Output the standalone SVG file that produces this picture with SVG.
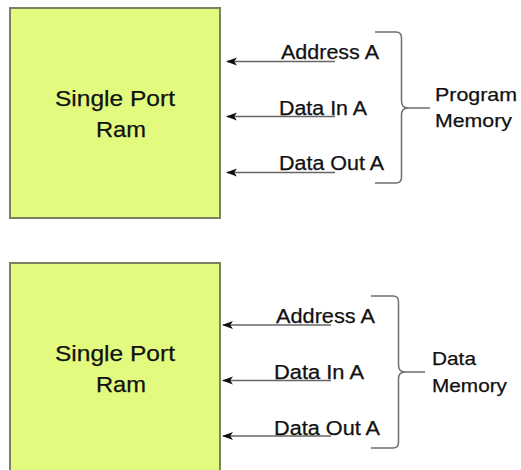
<svg xmlns="http://www.w3.org/2000/svg" width="521" height="470" viewBox="0 0 521 470">
  <style>
    .ram { fill: #e2fb7e; stroke: #7b8160; stroke-width: 2; }
    .t { font-family: "Liberation Sans", Arial, sans-serif; fill: #111; stroke: #111; stroke-width: 0.25; }
    .big { font-size: 22.5px; }
    .sig { font-size: 19.5px; }
    .lbl { font-size: 19px; }
    .wire { stroke: #666; stroke-width: 1.5; fill: none; marker-end: url(#head); }
    .brace { stroke: #6e6e6e; stroke-width: 1.5; fill: none; }
  </style>
  <defs>
    <marker id="head" viewBox="0 0 11 9" refX="10" refY="4.5" markerWidth="11" markerHeight="9" markerUnits="userSpaceOnUse" orient="auto">
      <path d="M0,0.5 L11,4.5 L0,8.5 L2.8,4.5 Z" fill="#111"/>
    </marker>
  </defs>

  <!-- program memory RAM -->
  <g id="ram-program">
    <rect class="ram" x="10" y="8" width="210" height="210"/>
    <text class="t big" x="55" y="106" textLength="120" lengthAdjust="spacingAndGlyphs">Single Port</text>
    <text class="t big" x="96" y="137" textLength="50" lengthAdjust="spacingAndGlyphs">Ram</text>
  </g>

  <!-- data memory RAM -->
  <g id="ram-data">
    <rect class="ram" x="10" y="263" width="210" height="220"/>
    <text class="t big" x="55" y="361" textLength="120" lengthAdjust="spacingAndGlyphs">Single Port</text>
    <text class="t big" x="96" y="392" textLength="50" lengthAdjust="spacingAndGlyphs">Ram</text>
  </g>

  <!-- port signal arrows -->
  <g id="connectors">
    <path class="wire" d="M335,61.5 H227"/>
    <path class="wire" d="M335,116.5 H227"/>
    <path class="wire" d="M335,172.5 H227"/>
    <path class="wire" d="M331,325 H223"/>
    <path class="wire" d="M331,380.5 H223"/>
    <path class="wire" d="M331,436 H223"/>
  </g>

  <!-- port labels -->
  <g id="labels-program">
    <text class="t sig" x="281" y="59" textLength="98" lengthAdjust="spacingAndGlyphs">Address A</text>
    <text class="t sig" x="279" y="114.5" textLength="88" lengthAdjust="spacingAndGlyphs">Data In A</text>
    <text class="t sig" x="279" y="170" textLength="105" lengthAdjust="spacingAndGlyphs">Data Out A</text>
  </g>
  <g id="labels-data">
    <text class="t sig" x="276" y="322.5" textLength="99" lengthAdjust="spacingAndGlyphs">Address A</text>
    <text class="t sig" x="274" y="379" textLength="90" lengthAdjust="spacingAndGlyphs">Data In A</text>
    <text class="t sig" x="274" y="435" textLength="106" lengthAdjust="spacingAndGlyphs">Data Out A</text>
  </g>

  <!-- program memory brace -->
  <g id="brace-program">
    <path class="brace" d="M375,32 H396 Q401.5,32 401.5,38 V101 Q401.5,108 408,108 H430 M408,108 Q401.5,108 401.5,115 V177 Q401.5,183 396,183 H375"/>
    <text class="t lbl" x="435" y="101" textLength="82" lengthAdjust="spacingAndGlyphs">Program</text>
    <text class="t lbl" x="435" y="127" textLength="77" lengthAdjust="spacingAndGlyphs">Memory</text>
  </g>

  <!-- data memory brace -->
  <g id="brace-data">
    <path class="brace" d="M371,296 H393 Q398.5,296 398.5,302 V365 Q398.5,372 405,372 H425 M405,372 Q398.5,372 398.5,379 V442 Q398.5,448 393,448 H371"/>
    <text class="t lbl" x="432" y="365" textLength="44" lengthAdjust="spacingAndGlyphs">Data</text>
    <text class="t lbl" x="432" y="392" textLength="75" lengthAdjust="spacingAndGlyphs">Memory</text>
  </g>
</svg>
